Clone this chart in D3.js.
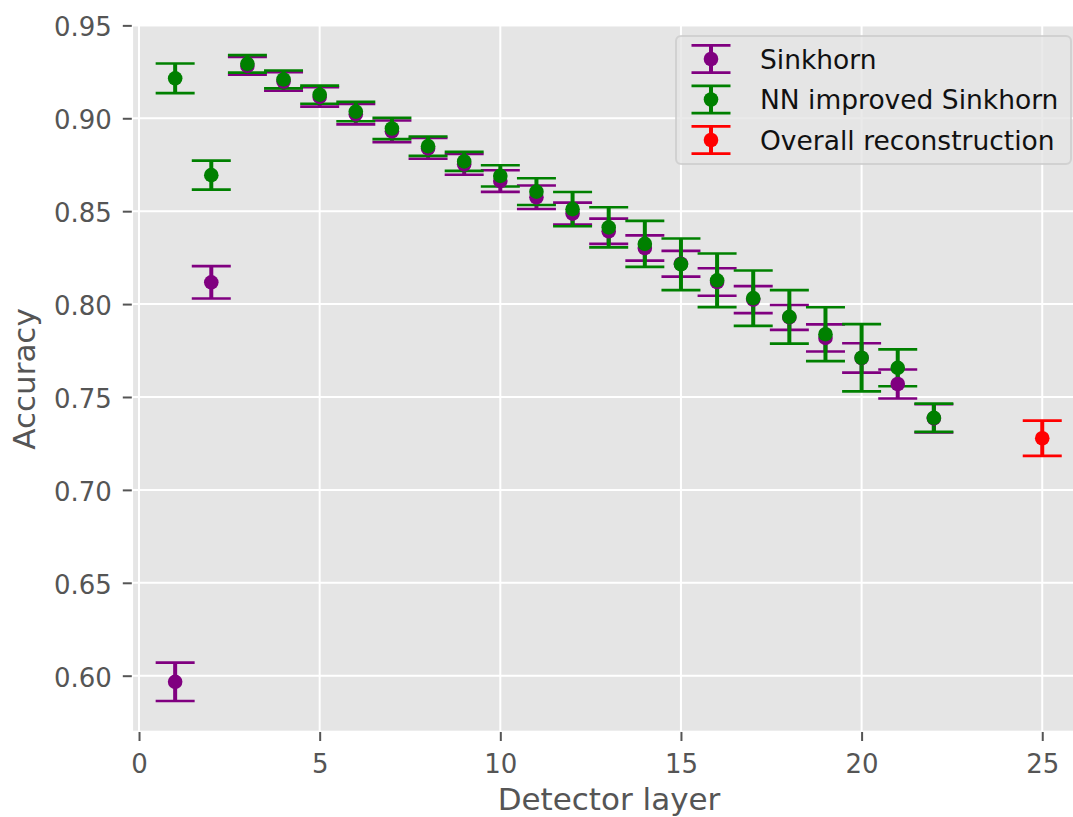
<!DOCTYPE html>
<html lang="en">
<head>
<meta charset="UTF-8">
<title>Accuracy per detector layer</title>
<script src="https://d3js.org/d3.v7.min.js"></script>
<style>
    body { margin: 0; background: #fff; }
    svg { display: block; font-family: "DejaVu Sans", sans-serif; }
</style>
</head>
<body>
<script>
// values
var layers = [1, 2, 3, 4, 5, 6, 7, 8, 9, 10, 11, 12, 13, 14, 15, 16, 17, 18, 19, 20, 21, 22];

var sinkhornAcc = [0.5967, 0.8117, 0.9282, 0.9198, 0.9115, 0.9022, 0.8930, 0.8838, 0.8752, 0.8662,
                   0.8575, 0.8487, 0.8392, 0.8302, 0.8217, 0.8119, 0.8024, 0.7928, 0.7818, 0.7710,
                   0.7570, 0.7385];
var sinkhornErr = [0.0103, 0.0087, 0.0048, 0.0050, 0.0052, 0.0055, 0.0058, 0.0056, 0.0056, 0.0058,
                   0.0063, 0.0059, 0.0068, 0.0068, 0.0069, 0.0074, 0.0073, 0.0067, 0.0073, 0.0079,
                   0.0078, 0.0076];

var nnAcc = [0.9215, 0.8694, 0.9293, 0.9209, 0.9127, 0.9036, 0.8945, 0.8850, 0.8768, 0.8690,
             0.8605, 0.8511, 0.8413, 0.8324, 0.8214, 0.8128, 0.8032, 0.7931, 0.7838, 0.7711,
             0.7657, 0.7388];
var nnErr = [0.0080, 0.0078, 0.0047, 0.0048, 0.0049, 0.0052, 0.0057, 0.0052, 0.0051, 0.0057,
             0.0072, 0.0092, 0.0108, 0.0124, 0.0139, 0.0144, 0.0149, 0.0144, 0.0145, 0.0181,
             0.0099, 0.0076];

var overallLayer = [25];
var overallAcc = [0.7278];
var overallErr = [0.0095];

var xTicks = [0, 5, 10, 15, 20, 25];
var yTicks = [0.60, 0.65, 0.70, 0.75, 0.80, 0.85, 0.90, 0.95];

var seriesNames = ["Sinkhorn", "NN improved Sinkhorn", "Overall reconstruction"];
var seriesColors = ["#800080", "#008000", "#ff0000"];

var w = 1073;
var h = 817;
var plotLeft = 131.8, plotRight = 1085.6, plotTop = 25, plotBottom = 732;
var capHalf = 19.5;

var svg = d3.select("body")
        .append("svg")
        .attr("width", w)
        .attr("height", h);

var x = d3.scaleLinear()
        .domain([-0.2, 26.2])
        .range([plotLeft, plotRight]);

var y = d3.scaleLinear()
        .domain([0.5697, 0.9502])
        .range([plotBottom, plotTop]);

// plot background
svg.append("rect")
    .attr("x", plotLeft)
    .attr("y", plotTop)
    .attr("width", plotRight - plotLeft)
    .attr("height", plotBottom - plotTop)
    .attr("fill", "#E5E5E5")
    .attr("stroke", "white")
    .attr("stroke-width", 2.6);

// grid
svg.append("g")
    .selectAll("line")
    .data(xTicks)
    .enter()
    .append("line")
    .attr("x1", function(d){ return x(d); })
    .attr("x2", function(d){ return x(d); })
    .attr("y1", plotTop)
    .attr("y2", plotBottom)
    .attr("stroke", "white")
    .attr("stroke-width", 2);

svg.append("g")
    .selectAll("line")
    .data(yTicks)
    .enter()
    .append("line")
    .attr("x1", plotLeft)
    .attr("x2", plotRight)
    .attr("y1", function(d){ return y(d); })
    .attr("y2", function(d){ return y(d); })
    .attr("stroke", "white")
    .attr("stroke-width", 2);

// axes
var xAxis = d3.axisBottom(x)
        .tickValues(xTicks)
        .tickSize(9)
        .tickPadding(14)
        .tickFormat(d3.format("d"));

var yAxis = d3.axisLeft(y)
        .tickValues(yTicks)
        .tickSize(9)
        .tickPadding(11)
        .tickFormat(d3.format(".2f"));

var gx = svg.append("g")
        .attr("transform", "translate(0," + plotBottom + ")")
        .call(xAxis);

var gy = svg.append("g")
        .attr("transform", "translate(" + plotLeft + ",0)")
        .call(yAxis);

[gx, gy].forEach(function(g){
    g.select(".domain").remove();
    g.selectAll(".tick line").attr("stroke", "#555555").attr("stroke-width", 2);
    g.selectAll(".tick text")
        .attr("fill", "#555555")
        .style("font-size", "26px")
        .style("font-family", "DejaVu Sans, sans-serif");
});
gy.selectAll(".tick text").attr("dy", "0.4em");

// axis labels
svg.append("text")
    .attr("x", 609)
    .attr("y", 810)
    .attr("text-anchor", "middle")
    .attr("fill", "#555555")
    .style("font-size", "31px")
    .text("Detector layer");

svg.append("text")
    .attr("transform", "translate(35,379) rotate(-90)")
    .attr("text-anchor", "middle")
    .attr("fill", "#555555")
    .style("font-size", "31px")
    .text("Accuracy");

// error bars
var series = [
    {xs: layers, vals: sinkhornAcc, errs: sinkhornErr, color: seriesColors[0]},
    {xs: layers, vals: nnAcc, errs: nnErr, color: seriesColors[1]},
    {xs: overallLayer, vals: overallAcc, errs: overallErr, color: seriesColors[2]}
];

var barLayer = svg.append("g");
var markLayer = svg.append("g");

series.forEach(function(s){
    var pts = s.xs.map(function(d, i){
        return {x: d, v: s.vals[i], e: s.errs[i]};
    });

    var g = barLayer.append("g");
    g.selectAll(".bar")
        .data(pts)
        .enter()
        .append("line")
        .attr("x1", function(d){ return x(d.x); })
        .attr("x2", function(d){ return x(d.x); })
        .attr("y1", function(d){ return y(d.v - d.e); })
        .attr("y2", function(d){ return y(d.v + d.e); })
        .attr("stroke", s.color)
        .attr("stroke-width", 4);

    [-1, 1].forEach(function(sign){
        g.selectAll(".cap" + sign)
            .data(pts)
            .enter()
            .append("line")
            .attr("x1", function(d){ return x(d.x) - capHalf; })
            .attr("x2", function(d){ return x(d.x) + capHalf; })
            .attr("y1", function(d){ return y(d.v + sign * d.e); })
            .attr("y2", function(d){ return y(d.v + sign * d.e); })
            .attr("stroke", s.color)
            .attr("stroke-width", 2.64);
    });

    markLayer.append("g")
        .selectAll("circle")
        .data(pts)
        .enter()
        .append("circle")
        .attr("cx", function(d){ return x(d.x); })
        .attr("cy", function(d){ return y(d.v); })
        .attr("r", 7.3)
        .attr("fill", s.color);
});

// legend
var legend = svg.append("g");
legend.append("rect")
    .attr("x", 676)
    .attr("y", 36)
    .attr("width", 395)
    .attr("height", 128)
    .attr("rx", 5)
    .attr("fill", "#E5E5E5")
    .attr("fill-opacity", 0.8)
    .attr("stroke", "#CCCCCC")
    .attr("stroke-opacity", 0.8)
    .attr("stroke-width", 2);

seriesNames.forEach(function(name, i){
    var cy = 59 + i * 40.5;
    var hx = 711;
    var row = legend.append("g");
    row.append("line")
        .attr("x1", hx).attr("x2", hx)
        .attr("y1", cy - 13.6).attr("y2", cy + 13.6)
        .attr("stroke", seriesColors[i])
        .attr("stroke-width", 4);
    [-13.6, 13.6].forEach(function(off){
        row.append("line")
            .attr("x1", hx - capHalf).attr("x2", hx + capHalf)
            .attr("y1", cy + off).attr("y2", cy + off)
            .attr("stroke", seriesColors[i])
            .attr("stroke-width", 2.64);
    });
    row.append("circle")
        .attr("cx", hx)
        .attr("cy", cy)
        .attr("r", 7.3)
        .attr("fill", seriesColors[i]);
    row.append("text")
        .attr("x", 760)
        .attr("y", cy)
        .attr("dy", "0.36em")
        .attr("fill", "#111")
        .style("font-size", "26.5px")
        .text(name);
});
</script>
</body>
</html>
